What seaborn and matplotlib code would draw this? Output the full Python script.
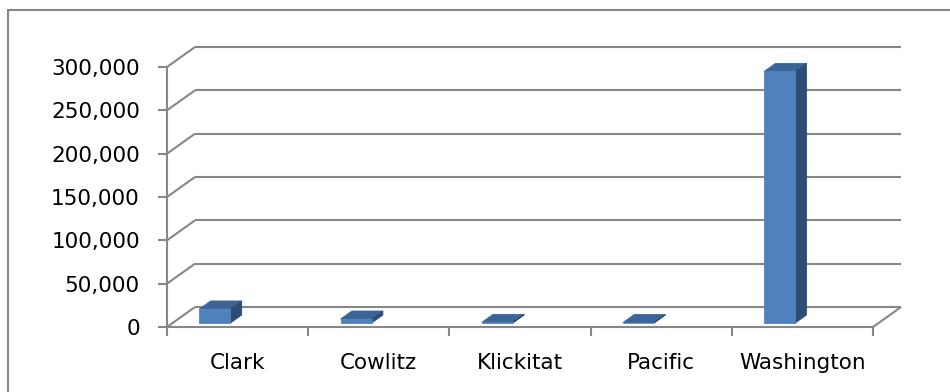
import numpy as np
import matplotlib
matplotlib.use("Agg")
import matplotlib.pyplot as plt
from matplotlib.patches import Polygon, Rectangle
from matplotlib.ticker import FuncFormatter
import seaborn as sns

# === Data ===
counties = ['Clark', 'Cowlitz', 'Klickitat', 'Pacific', 'Washington']
values = [16200, 4600, 700, 500, 290300]
y_ticks = [0, 50000, 100000, 150000, 200000, 250000, 300000]

# Colours (Excel style 3D column)
front_col = '#4F81BD'
top_col = '#3B6597'
side_col = '#2D4D75'
line_col = '#878787'

# Geometry of the fake 3D floor
AX_W, AX_H = 706, 260          # axes size in pixels
DX, DY = 28, 20                # floor depth in pixels
BAR_D0, BAR_D1 = 0.2, 0.6      # bar sits between these depth fractions
BAR_SHIFT = -0.20              # bar offset inside its category

sns.set_style('ticks')
plt.rcParams['font.family'] = ['DejaVu Sans']

fig = plt.figure(figsize=(9.5, 3.92), dpi=100)
ax = fig.add_axes([167 / 950, 65 / 392, AX_W / 950, AX_H / 392])

sns.barplot(x=counties, y=values, color=front_col, saturation=1, width=0.22,
            errorbar=None, linewidth=0.6, edgecolor=front_col, ax=ax, zorder=3)
ax.set_xlim(-0.5, 4.5)
ax.set_ylim(0, 300000)

# depth offsets in data units
ddx = DX * 5 / AX_W
ddy = DY * 300000 / AX_H

# === Back wall, side wall, floor ===
kw = dict(color=line_col, lw=1.5, clip_on=False, zorder=1, solid_capstyle='butt')
for v in y_ticks:
    ax.plot([-0.5 + ddx, 4.5 + ddx], [v + ddy, v + ddy], **kw)
    ax.plot([-0.5, -0.5 + ddx], [v, v + ddy], **kw)
ax.plot([4.5, 4.5 + ddx], [0, ddy], **kw)

# === 3D bars: move front faces back and add top / side faces ===
for p in list(ax.patches):
    p.set_x(p.get_x() + BAR_SHIFT + BAR_D0 * ddx)
    p.set_y(BAR_D0 * ddy)
    p.set_clip_on(False)
    x0 = p.get_x()
    x1 = x0 + p.get_width()
    y0 = p.get_y()
    y1 = y0 + p.get_height()
    sx = (BAR_D1 - BAR_D0) * ddx
    sy = (BAR_D1 - BAR_D0) * ddy
    top = Polygon([(x0, y1), (x1, y1), (x1 + sx, y1 + sy), (x0 + sx, y1 + sy)],
                  closed=True, facecolor=top_col, edgecolor=top_col, lw=0.6,
                  zorder=2.9, clip_on=False)
    side = Polygon([(x1, y0), (x1 + sx, y0 + sy), (x1 + sx, y1 + sy), (x1, y1)],
                   closed=True, facecolor=side_col, edgecolor=side_col, lw=0.6,
                   zorder=2.9, clip_on=False)
    ax.add_patch(top)
    ax.add_patch(side)

# === Axes styling ===
sns.despine(ax=ax)
for s in ['left', 'bottom']:
    ax.spines[s].set_color(line_col)
    ax.spines[s].set_linewidth(1.5)

ax.set_yticks(y_ticks)
ax.yaxis.set_major_formatter(FuncFormatter(lambda v, _: f'{int(v):,}'))
ax.tick_params(axis='y', length=6.5, width=1.5, color=line_col, labelsize=15.5,
               pad=13, labelcolor='black')
ax.tick_params(axis='x', which='major', length=0, labelsize=15.5, pad=19,
               labelcolor='black')
ax.set_xticks(np.arange(-0.5, 5, 1), minor=True)
ax.tick_params(axis='x', which='minor', length=6.5, width=1.5, color=line_col)
ax.set_xlabel('')
ax.set_ylabel('')
ax.patch.set_alpha(0)

# chart area border (runs off the right and bottom of the picture)
fig.add_artist(Rectangle((8 / 950, -1), 2, 1 + 382 / 392, transform=fig.transFigure,
                         fill=False, edgecolor=line_col, linewidth=1.5))

fig.savefig('out.png', dpi=100)
